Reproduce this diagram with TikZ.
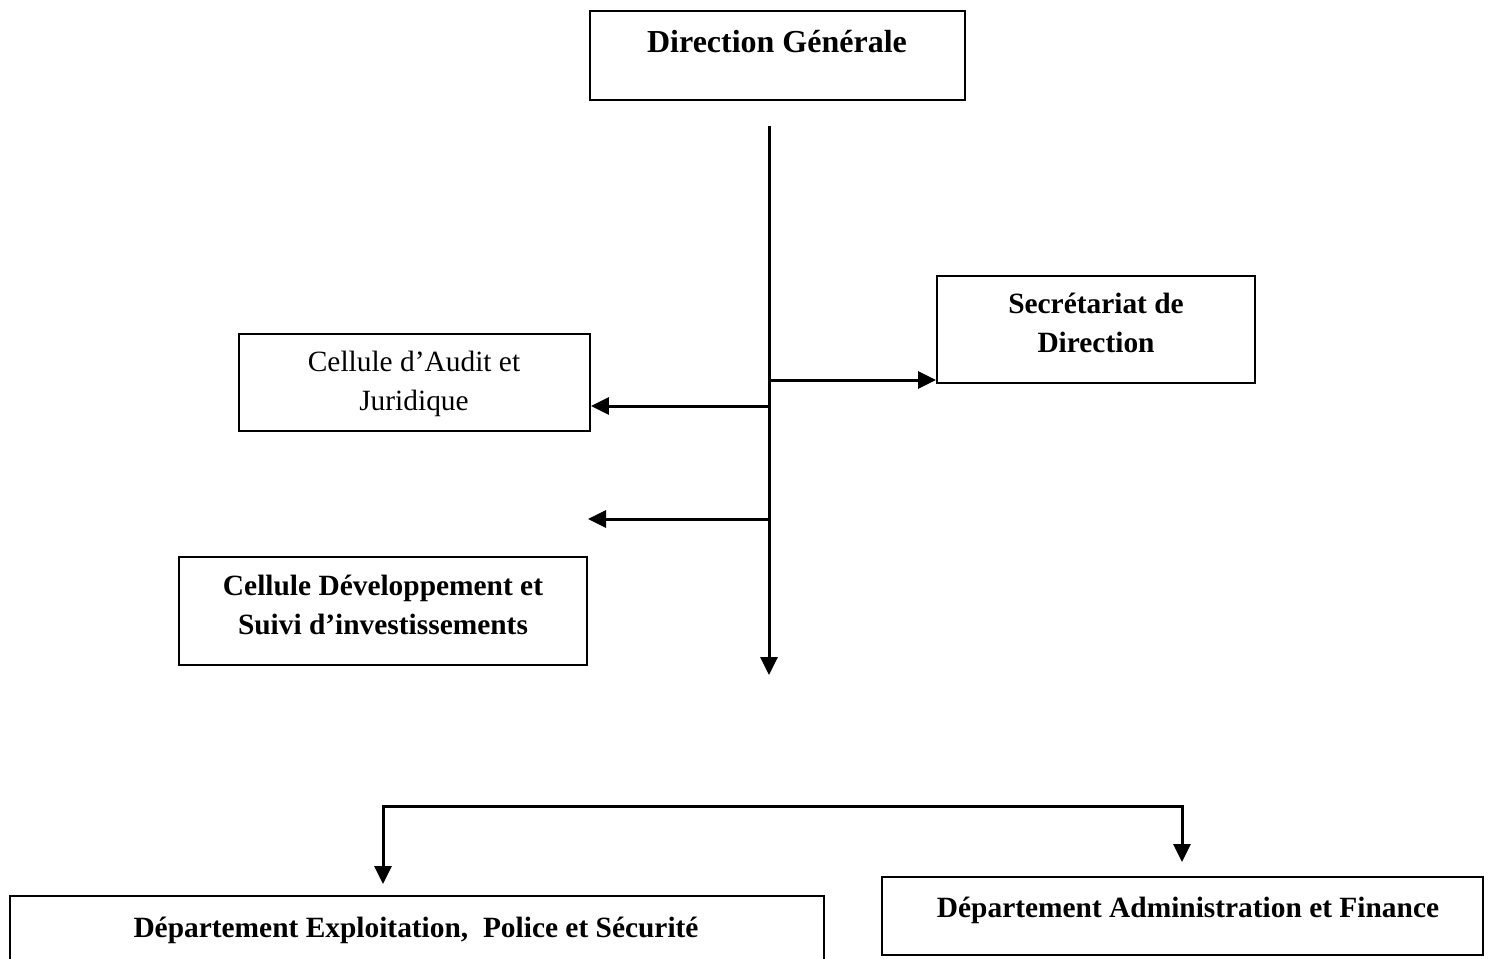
\documentclass[tikz,border=0pt]{standalone}
\usepackage{fontspec}
\setmainfont{Liberation Serif}
\usetikzlibrary{arrows.meta}
\begin{document}
\begin{tikzpicture}[x=0.5pt,y=-0.5pt,
  box/.style={draw, line width=0.9pt, inner sep=0pt},
  lbl/.style={inner sep=0pt, align=center, font=\fontsize{14.7}{19.5}\selectfont},
  blbl/.style={lbl, font=\fontsize{14.7}{19.5}\selectfont\bfseries},
  conn/.style={line width=1.5pt, -{Triangle[length=9pt,width=8.5pt]}},
  conn2/.style={line width=1.5pt, {Triangle[length=9pt,width=8.5pt]}-{Triangle[length=9pt,width=8.5pt]}}]
\useasboundingbox (0,0) rectangle (1502,958);
% boxes
\node[box, minimum width=187.5pt, minimum height=44.5pt] (dg) at (777.5,55.5) {};
\node[box, minimum width=159pt, minimum height=53.5pt] (sec) at (1096,329.5) {};
\node[box, minimum width=175.5pt, minimum height=48.5pt] (audit) at (414.5,382.5) {};
\node[box, minimum width=204pt, minimum height=54pt] (dev) at (383,611) {};
\node[box, minimum width=407pt, minimum height=40pt] (expl) at (417,936) {};
\node[box, minimum width=300.5pt, minimum height=39pt] (admin) at (1182.5,916) {};
% texts
\node[lbl, font=\fontsize{16}{19.5}\selectfont\bfseries] (dgt) at (777,42) {Direction Générale};
\node[blbl] (sect) at (1096,323) {Secrétariat de\\Direction};
\node[lbl] (auditt) at (414,384) {Cellule d’Audit et\\Juridique};
\node[blbl] (devt) at (383,605) {Cellule Développement et\\Suivi d’investissements};
\node[blbl] (explt) at (416,930) {Département Exploitation,\ \ Police et Sécurité};
\node[blbl] (admint) at (1188,910) {Département Administration et Finance};
% connectors
\coordinate (top) at (769,126);
\coordinate (bot) at (769,675);
\coordinate (j1) at (769,380);
\coordinate (j2) at (769,406);
\coordinate (j3) at (769,519);
\coordinate (f3) at (588,519);
\coordinate (e1) at (383,884);
\coordinate (b2) at (1182,806);
\coordinate (e2) at (1182,862);
\draw[conn] (top) -- (bot);
\draw[conn] (j1) -- (sec.west |- j1);
\draw[conn] (j2) -- (audit.east |- j2);
\draw[conn] (j3) -- (f3);
\draw[conn2] (e1) |- (b2) -- (e2);
\end{tikzpicture}
\end{document}
